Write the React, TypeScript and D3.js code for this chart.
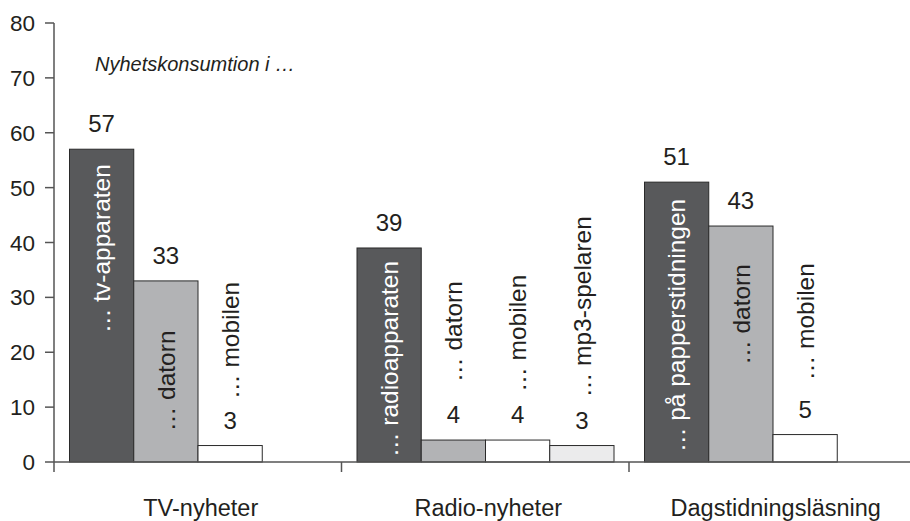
import React from "react";
import * as d3 from "d3";

const categories = ["TV-nyheter", "Radio-nyheter", "Dagstidningsläsning"];
// values per category, slot order
const tvValues = [57, 33, 3];
const radioValues = [39, 4, 4, 3];
const dagValues = [51, 43, 5];
const tvLabels = ["… tv-apparaten", "… datorn", "… mobilen"];
const radioLabels = ["… radioapparaten", "… datorn", "… mobilen", "… mp3-spelaren"];
const dagLabels = ["… på papperstidningen", "… datorn", "… mobilen"];
// where each rotated label begins, in value units
const tvLabelStart = [23.5, 5.6, 11.5];
const radioLabelStart = [0.9, 14.6, 12.8, 11.8];
const dagLabelStart = [1.8, 17.7, 14.9];
const yTicks = [0, 10, 20, 30, 40, 50, 60, 70, 80];
const title = "Nyhetskonsumtion i …";

const slotFill = ["#58595b", "#b2b3b5", "#ffffff", "#ebebec"];
const slotText = ["#ffffff", "#231f20", "#231f20", "#231f20"];

const W = 910;
const H = 521;
const left = 54;
const right = 916.5;
const top = 23;
const bottom = 462;
const FONT = "'Liberation Sans', Arial, Helvetica, sans-serif";
const INK = "#231f20";
const AXIS = "#555555";

export default function App() {
  const x = d3.scaleBand<string>().domain(categories).range([left, right]).padding(0);
  const slot = d3
    .scaleBand<number>()
    .domain([0, 1, 2, 3])
    .range([15.5, x.bandwidth() - 15])
    .padding(0);
  const y = d3.scaleLinear().domain([0, 80]).range([bottom, top]);

  const groups = [
    { cat: categories[0], values: tvValues, labels: tvLabels, starts: tvLabelStart },
    { cat: categories[1], values: radioValues, labels: radioLabels, starts: radioLabelStart },
    { cat: categories[2], values: dagValues, labels: dagLabels, starts: dagLabelStart },
  ];

  const boundaries = [...categories.map((c) => x(c)!), right];

  return (
    <svg
      width={W}
      height={H}
      style={{ position: "absolute", left: 0, top: 0, background: "#fff" }}
      fontFamily={FONT}
    >
      <rect x={0} y={0} width={W} height={H} fill="#fff" />
      {/* bars */}
      {groups.map((g) =>
        g.values.map((v, i) => {
          const bx = x(g.cat)! + slot(i)!;
          const bw = slot.bandwidth();
          const cx = bx + bw / 2;
          const ly = y(g.starts[i]);
          return (
            <g key={g.cat + i}>
              <rect
                x={bx}
                y={y(v)}
                width={bw}
                height={y(0) - y(v)}
                fill={slotFill[i]}
                stroke="#2a2a2a"
                strokeWidth={1}
              />
              <text
                x={cx}
                y={y(v) - 17}
                textAnchor="middle"
                fontSize={24}
                fill={INK}
              >
                {v}
              </text>
              <text
                transform={`translate(${cx},${ly}) rotate(-90)`}
                dy="0.36em"
                textAnchor="start"
                fontSize={24.5}
                fill={slotText[i]}
              >
                {g.labels[i]}
              </text>
            </g>
          );
        })
      )}
      {/* y axis */}
      <line x1={left} x2={left} y1={top} y2={bottom} stroke={AXIS} strokeWidth={1.5} />
      {yTicks.map((t) => (
        <g key={t}>
          <line x1={left - 9} x2={left} y1={y(t)} y2={y(t)} stroke={AXIS} strokeWidth={1.5} />
          <text
            x={left - 19}
            y={y(t)}
            dy="0.36em"
            textAnchor="end"
            fontSize={22.5}
            fill={INK}
          >
            {t}
          </text>
        </g>
      ))}
      {/* x axis */}
      <line x1={left} x2={right} y1={bottom} y2={bottom} stroke={AXIS} strokeWidth={1.5} />
      {boundaries.map((b, i) => (
        <line key={i} x1={b} x2={b} y1={bottom} y2={bottom + 10} stroke={AXIS} strokeWidth={1.5} />
      ))}
      {categories.map((c) => (
        <text
          key={c}
          x={x(c)! + x.bandwidth() / 2 + 3}
          y={516}
          textAnchor="middle"
          fontSize={23.5}
          fill={INK}
        >
          {c}
        </text>
      ))}
      <text x={95} y={71} fontSize={20} fontStyle="italic" fill={INK}>
        {title}
      </text>
    </svg>
  );
}
